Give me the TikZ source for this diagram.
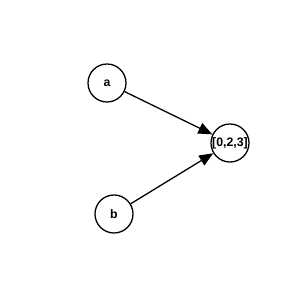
\documentclass[tikz,border=0pt]{standalone}
\usepackage{fontspec}
\setmainfont{Liberation Sans}
\usetikzlibrary{arrows.meta, positioning}
\definecolor{mydark}{RGB}{0,0,0}
\tikzset{
  vertex/.style={circle,draw=mydark,fill=white,minimum size=1.14cm,inner sep=0pt,
    font=\fontsize{10.5}{12}\selectfont\bfseries,line width=1.1pt},
  arrow/.style={-{Triangle[length=4.2mm,width=3.4mm]},line width=1.1pt,color=mydark}
}
\begin{document}
\begin{tikzpicture}
  \useasboundingbox (0,0) rectangle (9,9);
  % vertices
  \node[vertex] (a) at (3.21,6.51) {a};
  \node[vertex] (b) at (3.42,2.58) {b};
  \node[vertex] (abc) at (6.9,4.71) {[0,2,3]};
  % edges
  \draw[arrow] (a) -- (abc);
  \draw[arrow] (b) -- (abc);
\end{tikzpicture}
\end{document}
